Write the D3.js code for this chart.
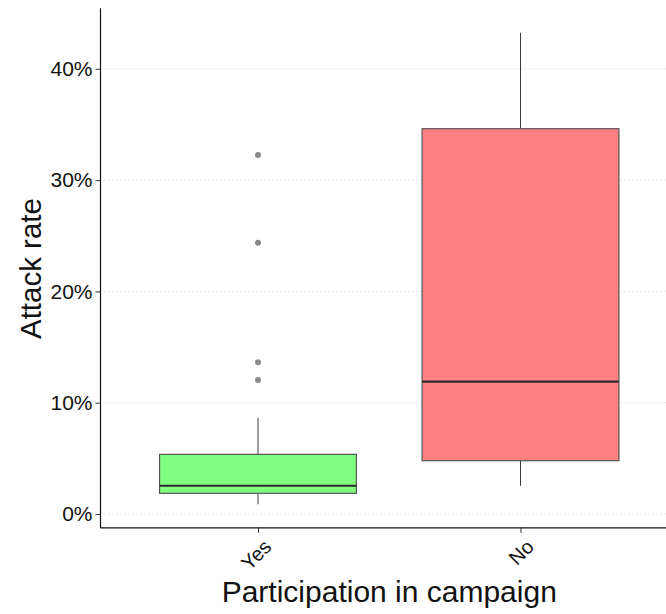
<!DOCTYPE html>
<html>
<head>
<meta charset="utf-8">
<script src="https://cdn.jsdelivr.net/npm/d3@7"></script>
<style>
  html, body { margin: 0; padding: 0; background: #fff; }
  svg { display: block; }
  text { font-family: "Liberation Sans", Arial, sans-serif; }
</style>
</head>
<body>
<svg id="chart" width="666" height="614"></svg>
<script>
// Attack rate by participation in campaign: box-plot summaries per group
const categories   = ["Yes", "No"];
const whiskerLow   = [0.0087, 0.0254];
const q1           = [0.0186, 0.0479];
const median       = [0.0254, 0.1189];
const q3           = [0.0536, 0.3462];
const whiskerHigh  = [0.0863, 0.4324];
const outliersYes  = [0.3226, 0.2438, 0.1363, 0.1204];
const outliersNo   = [];
const fills        = ["#80ff80", "#ff8080"];
const yTicks       = [0, 0.1, 0.2, 0.3, 0.4];

const boxes = categories.map((c, i) => ({
  cat: c, lo: whiskerLow[i], q1: q1[i], med: median[i], q3: q3[i], hi: whiskerHigh[i],
  out: i === 0 ? outliersYes : outliersNo, fill: fills[i]
}));

const svg = d3.select("#chart");
const panel = { left: 100.5, right: 678, top: 9.2, bottom: 527.9 };

// continuous scale with 5% expansion of the data range on both ends
const allVals = boxes.flatMap(b => [b.lo, b.hi, ...b.out]);
const dMin = d3.min(allVals), dMax = d3.max(allVals);
const pad = (dMax - dMin) * 0.05;
const y = d3.scaleLinear().domain([dMin - pad, dMax + pad]).range([panel.bottom, panel.top]);

// discrete scale, 0.6 step of space either side
const x = d3.scalePoint().domain(categories).range([panel.left, panel.right]).padding(0.6);
const boxW = x.step() * 0.75;

// dotted horizontal grid
svg.append("g")
  .selectAll("line")
  .data(yTicks)
  .join("line")
  .attr("x1", panel.left).attr("x2", panel.right)
  .attr("y1", d => y(d)).attr("y2", d => y(d))
  .attr("stroke", "#cfcfcf")
  .attr("stroke-width", 1)
  .attr("stroke-dasharray", "1,3");

// boxes
const g = svg.append("g");
boxes.forEach(b => {
  const cx = x(b.cat);
  g.append("line")
    .attr("x1", cx).attr("x2", cx).attr("y1", y(b.q3)).attr("y2", y(b.hi))
    .attr("stroke", "#3a3a3a").attr("stroke-width", 1);
  g.append("line")
    .attr("x1", cx).attr("x2", cx).attr("y1", y(b.q1)).attr("y2", y(b.lo))
    .attr("stroke", "#3a3a3a").attr("stroke-width", 1);
  g.append("rect")
    .attr("x", cx - boxW / 2).attr("width", boxW)
    .attr("y", y(b.q3)).attr("height", y(b.q1) - y(b.q3))
    .attr("fill", b.fill)
    .attr("stroke", "#555").attr("stroke-width", 1.2);
  g.append("line")
    .attr("x1", cx - boxW / 2).attr("x2", cx + boxW / 2)
    .attr("y1", y(b.med)).attr("y2", y(b.med))
    .attr("stroke", "#2a2a2a").attr("stroke-width", 2.2);
  g.selectAll(null)
    .data(b.out)
    .join("circle")
    .attr("cx", cx).attr("cy", d => y(d)).attr("r", 3)
    .attr("fill", "#8a8a8a");
});

// y axis
const yAxis = svg.append("g")
  .attr("transform", `translate(${panel.left},0)`)
  .call(d3.axisLeft(y).tickValues(yTicks).tickFormat(d3.format(".0%")).tickSize(5).tickPadding(3));
yAxis.select(".domain").attr("stroke", "#111").attr("stroke-width", 1.2)
  .attr("d", `M0,${panel.top - 1}V${panel.bottom}`);
yAxis.selectAll(".tick line").attr("stroke", "#333").attr("stroke-width", 1);
yAxis.selectAll(".tick text")
  .attr("font-size", 21).attr("fill", "#111")
  .style("font-family", "'Liberation Sans', Arial, sans-serif");

// x axis
const xAxis = svg.append("g")
  .attr("transform", `translate(0,${panel.bottom})`)
  .call(d3.axisBottom(x).tickSize(5).tickFormat(d => d));
xAxis.select(".domain").attr("stroke", "#111").attr("stroke-width", 1.2)
  .attr("d", `M${panel.left},0H${panel.right}`);
xAxis.selectAll(".tick line").attr("stroke", "#333").attr("stroke-width", 1);
xAxis.selectAll(".tick text")
  .attr("font-size", 20).attr("fill", "#111")
  .style("font-family", "'Liberation Sans', Arial, sans-serif")
  .attr("text-anchor", "end")
  .attr("dy", "0.72em")
  .attr("transform", "translate(4,10) rotate(-45)")
  .attr("x", 0).attr("y", 0);

// axis titles
svg.append("text")
  .attr("x", (panel.left + panel.right) / 2)
  .attr("y", 602)
  .attr("text-anchor", "middle")
  .attr("font-size", 30)
  .attr("fill", "#111")
  .text("Participation in campaign");

svg.append("text")
  .attr("transform", `translate(41,${(panel.top + panel.bottom) / 2}) rotate(-90)`)
  .attr("text-anchor", "middle")
  .attr("font-size", 29.5)
  .attr("fill", "#111")
  .text("Attack rate");
</script>
</body>
</html>
